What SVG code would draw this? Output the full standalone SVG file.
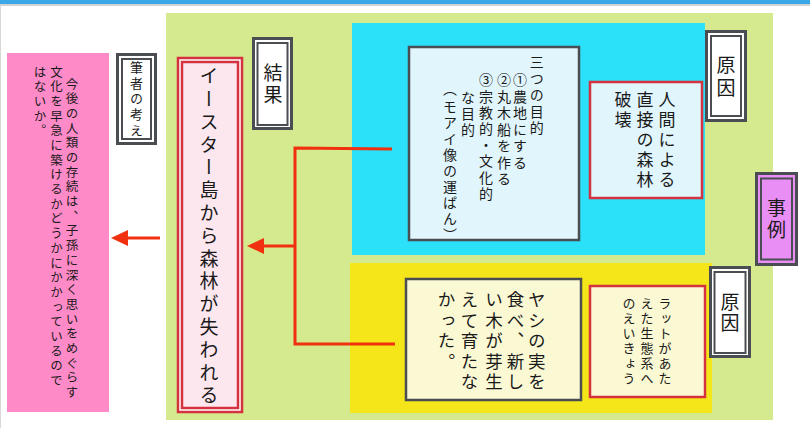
<svg xmlns="http://www.w3.org/2000/svg" width="810" height="428" viewBox="0 0 810 428">
  <defs>
    <style>
      .v { writing-mode: vertical-rl; font-family: "Noto Sans CJK JP", "Noto Sans", sans-serif; fill: #1a1a1a; }
      .dk { fill: none; stroke: #4a4e53; }
      .rd { fill: none; stroke: #d5323f; }
      .con { stroke: #f0300f; stroke-width: 3; fill: none; }
    </style>
    <marker id="ah" viewBox="0 0 17 16" refX="0" refY="8" markerWidth="17" markerHeight="16" markerUnits="userSpaceOnUse" orient="auto">
      <path d="M0,0 L17,8 L0,16 z" fill="#f0300f"/>
    </marker>
  </defs>

  <rect x="0" y="0" width="810" height="428" fill="#ffffff"/>
  <rect x="0" y="0" width="810" height="4" fill="#3ba6e8"/>
  <rect x="0" y="4" width="810" height="2" fill="#cfd3d6"/>
  <line x1="0.5" y1="6" x2="0.5" y2="428" stroke="#d8d8d8"/>

  <!-- backgrounds -->
  <rect id="bg-green" x="166" y="13" width="607" height="407" fill="#d5e98f"/>
  <rect id="bg-blue" x="352" y="23" width="353" height="232" fill="#2ae1f9"/>
  <rect id="bg-yellow" x="350" y="263" width="362" height="150" fill="#f5e619"/>

  <g id="pink-opinion">
    <rect x="7" y="53" width="102" height="359" fill="#fe8ac8"/>
    <text class="v" x="72" y="77.5" font-size="12.5" letter-spacing="2.2">今後の人類の存続は、子孫に深く思いをめぐらす</text>
    <text class="v" x="56.5" y="65.5" font-size="12.5" letter-spacing="2.2">文化を早急に築けるかどうかにかかっているので</text>
    <text class="v" x="40" y="65.5" font-size="12.5" letter-spacing="2.2">はないか。</text>
  </g>

  <g id="label-author">
    <rect x="116" y="53" width="41" height="92" fill="#ffffff"/>
    <rect class="dk" x="117.5" y="54.5" width="38" height="89" stroke-width="3"/>
    <rect class="dk" x="122" y="59" width="29" height="80" stroke-width="2"/>
    <text class="v" x="136.5" y="60.5" font-size="13" letter-spacing="2.7">筆者の考え</text>
  </g>

  <g id="result">
    <rect x="177" y="57" width="66" height="356" fill="#ffffff"/>
    <rect class="rd" x="178" y="58" width="64" height="354" stroke-width="2.5"/>
    <rect x="182" y="62" width="56" height="346" fill="#fde7ef"/>
    <rect class="rd" x="182" y="62" width="56" height="346" stroke-width="2.5"/>
    <text class="v" x="209" y="66.5" font-size="19" letter-spacing="3.8">イースター島から森林が失われる</text>
  </g>

  <g id="label-result">
    <rect x="252" y="37" width="41" height="93" fill="#ffffff"/>
    <rect class="dk" x="253.5" y="38.5" width="38" height="90" stroke-width="3"/>
    <rect class="dk" x="257.5" y="43" width="30" height="82" stroke-width="2"/>
    <text class="v" x="273" y="63.5" font-size="19" letter-spacing="3">結果</text>
  </g>

  <g id="purposes">
    <rect x="409" y="47" width="170" height="193" fill="#e1f5fc" stroke="#4a4e53" stroke-width="2.5"/>
    <text class="v" x="536.7" y="54.7" font-size="14" letter-spacing="2.5">三つの目的</text>
    <text class="v" x="520" y="73" font-size="14" letter-spacing="2.5">①農地にする</text>
    <text class="v" x="504" y="73" font-size="14" letter-spacing="2.5">②丸木船を作る</text>
    <text class="v" x="486" y="73" font-size="14" letter-spacing="2.2">③宗教的・文化的</text>
    <text class="v" x="468" y="90.3" font-size="14" letter-spacing="2.2">な目的</text>
    <text class="v" x="450" y="82" font-size="14">（</text>
    <text class="v" x="450" y="99.7" font-size="14" letter-spacing="2">モアイ像の運ぱん）</text>
  </g>

  <g id="cause-human">
    <rect x="590" y="82" width="112" height="116" fill="#e1f5fc" stroke="#d5323f" stroke-width="2.5"/>
    <text class="v" x="667" y="91.5" font-size="17" letter-spacing="3">人間による</text>
    <text class="v" x="645" y="91.5" font-size="17" letter-spacing="3">直接の森林</text>
    <text class="v" x="623" y="91.5" font-size="17" letter-spacing="3">破壊</text>
  </g>

  <g id="label-cause-1">
    <rect x="705" y="30" width="42" height="92" fill="#ffffff"/>
    <rect class="dk" x="706.5" y="31.5" width="39" height="89" stroke-width="3"/>
    <rect class="dk" x="711" y="36" width="30" height="80" stroke-width="2"/>
    <text class="v" x="726" y="55.5" font-size="19" letter-spacing="4">原因</text>
  </g>

  <g id="label-example">
    <rect x="755" y="172" width="43" height="94" fill="#e88ef5"/>
    <rect class="dk" x="756.5" y="173.5" width="40" height="91" stroke-width="3"/>
    <rect class="dk" x="761" y="178.5" width="31" height="81" stroke-width="2"/>
    <text class="v" x="776.5" y="198.5" font-size="19" letter-spacing="3">事例</text>
  </g>

  <g id="palm">
    <rect x="406" y="279" width="175" height="121" fill="#fbf9d4" stroke="#4a4e53" stroke-width="2.5"/>
    <text class="v" x="536.7" y="291" font-size="17.5" letter-spacing="3">ヤシの実を</text>
    <text class="v" x="515.5" y="291" font-size="17.5" letter-spacing="3">食べ、新し</text>
    <text class="v" x="494" y="291" font-size="17.5" letter-spacing="3">い木が芽生</text>
    <text class="v" x="469.5" y="291" font-size="17.5" letter-spacing="3">えて育たな</text>
    <text class="v" x="446.5" y="291" font-size="17.5" letter-spacing="3">かった。</text>
  </g>

  <g id="cause-rat">
    <rect x="590" y="286" width="115" height="111" fill="#fbf9d4" stroke="#d5323f" stroke-width="2.5"/>
    <text class="v" x="665" y="296.8" font-size="13" letter-spacing="2">ラットがあた</text>
    <text class="v" x="647" y="296.8" font-size="13" letter-spacing="2">えた生態系へ</text>
    <text class="v" x="629" y="296.8" font-size="13" letter-spacing="2">のえいきょう</text>
  </g>

  <g id="label-cause-2">
    <rect x="709" y="266" width="42" height="92" fill="#ffffff"/>
    <rect class="dk" x="710.5" y="267.5" width="39" height="89" stroke-width="3"/>
    <rect class="dk" x="714.5" y="272" width="31" height="81" stroke-width="2"/>
    <text class="v" x="730" y="292.5" font-size="19" letter-spacing="2">原因</text>
  </g>

  <g id="connectors">
    <polyline class="con" points="392,149 295,148 295,344 395,344"/>
    <line class="con" x1="295" y1="246" x2="264" y2="246" marker-end="url(#ah)"/>
    <line class="con" x1="160" y1="238" x2="128" y2="238" marker-end="url(#ah)"/>
  </g>
</svg>
